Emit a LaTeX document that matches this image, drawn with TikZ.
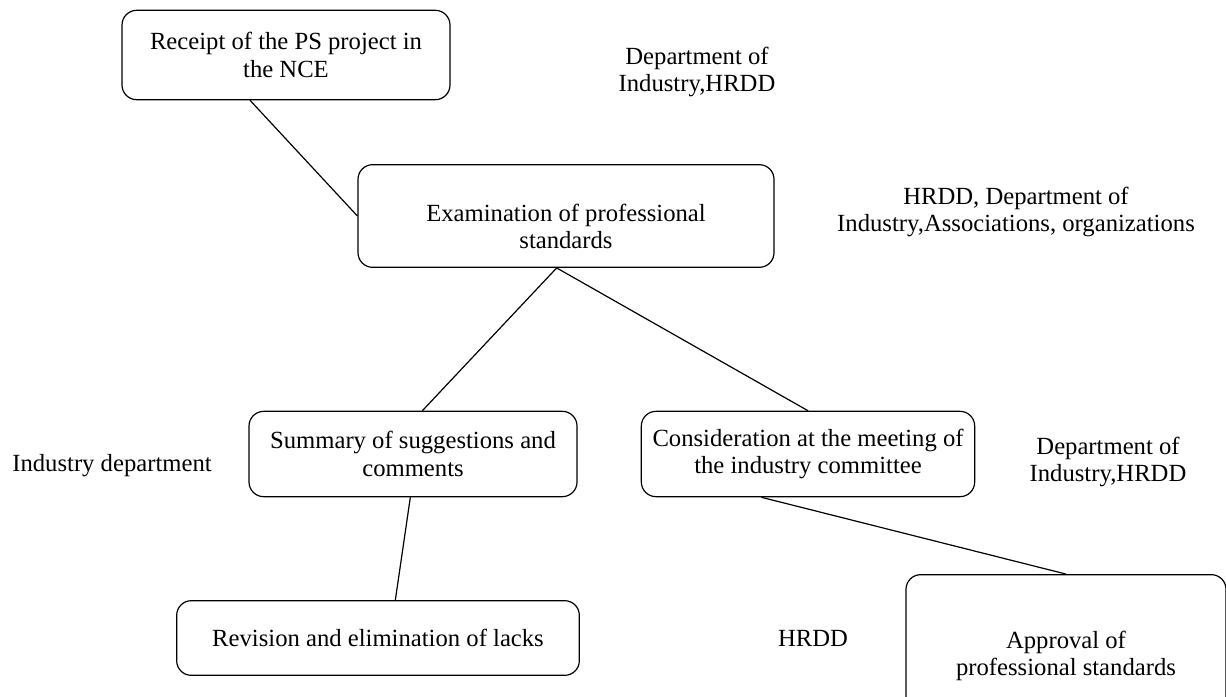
\documentclass[tikz,border=0pt]{standalone}
\usepackage{fontspec}
\setmainfont{Liberation Serif}
\usepackage{tikz}
\usetikzlibrary{positioning}
\newcommand{\topgap}[1]{\rule{0pt}{#1}}

\begin{document}
\begin{tikzpicture}[x=0.75pt, y=-0.75pt,
  stage/.style={draw, rounded corners=11pt, align=center, inner sep=0pt, line width=0.9pt},
  actor/.style={align=center, inner sep=0pt},
  link/.style={line width=0.9pt},
  every node/.style={font=\fontsize{18.5}{20.5}\selectfont}]
\useasboundingbox (0,0) rectangle (1226,696);
\fill[white] (0,0) rectangle (1226,696);
\node[stage, minimum width=246pt, minimum height=67pt] (receipt) at (286,55) {Receipt of the PS project in\\the NCE};
\node[stage, minimum width=312pt, minimum height=77pt] (exam) at (566,216) {\topgap{29pt}Examination of professional\\standards};
\node[stage, minimum width=246pt, minimum height=64pt] (summary) at (413,454) {Summary of suggestions and\\comments};
\node[stage, minimum width=250pt, minimum height=64pt] (commit) at (808,454) {Consideration at the meeting of\\the industry committee};
\node[stage, minimum width=302pt, minimum height=56pt] (revision) at (378,638) {Revision and elimination of lacks};
\node[stage, minimum width=240pt, minimum height=110pt] (approval) at (1066,648) {\topgap{24.5pt}Approval of\\professional standards};
% who takes part
\node[actor] (whoReceipt) at (697,72) {Department of\\Industry,HRDD};
\node[actor] (whoExam) at (1016,212) {HRDD, Department of\\Industry,Associations, organizations};
\node[actor] (whoSummary) at (112,466) {Industry department};
\node[actor] (whoCommit) at (1108,462) {Department of\\Industry,HRDD};
\node[actor] (whoApproval) at (813,638) {HRDD};
% links
\draw[link] ([xshift=-27pt]receipt.south) -- (exam.west);
\coordinate (e1) at ([xshift=-7pt]exam.south);
\draw[link] (e1) -- ([xshift=7pt]summary.north);
\draw[link] (e1) -- (commit.north);
\draw[link] ([xshift=-2pt]summary.south) -- ([xshift=13pt]revision.north);
\draw[link] ([xshift=-35pt]commit.south) -- (approval.north);
\end{tikzpicture}
\end{document}
